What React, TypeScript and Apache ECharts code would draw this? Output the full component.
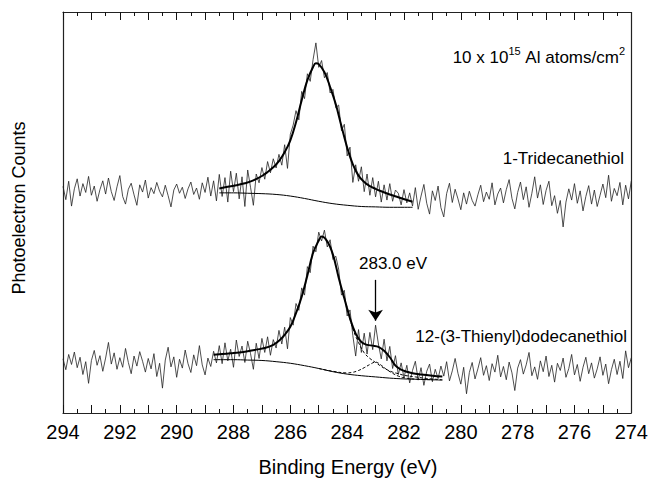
import React, { useEffect, useRef } from "react";
import * as echarts from "echarts";

const FONT = '"Liberation Sans", Arial, Helvetica, sans-serif';

// x axis (binding energy, eV), drawn reversed
const xMin = 274;
const xMax = 294;
const xTickLabels = [294, 292, 290, 288, 286, 284, 282, 280, 278, 276, 274];
const STEP = 0.1;

// ---- 1-Tridecanethiol raw spectrum (segments; each starts at given energy, step 0.1 eV downward)
const topRawA = [56.5, 53.2, 57.8, 51.6, 55.9, 58.4, 54.1, 57.2, 55.0, 59.0, 54.3, 56.6, 52.8, 55.7, 57.9, 54.6, 58.6, 55.2, 53.0, 56.4, 59.2, 54.0, 52.1, 55.8, 57.3, 54.4, 51.8, 56.9, 55.1, 58.1, 53.6, 56.2, 54.7, 57.5, 55.3, 53.9, 56.8, 54.2, 51.4, 55.6, 57.1, 54.8, 56.3, 53.5, 55.9, 57.6, 54.5, 56.1, 53.3, 57.4, 55.0, 58.8, 54.1, 57.9, 52.9];
const topRawB = [59.5, 54.0, 58.7, 52.6, 60.3, 55.2, 59.8, 53.4, 58.9, 51.5, 60.6, 56.3, 51.8, 59.6, 57.4, 61.2, 58.3, 62.7, 59.9, 63.4, 61.1];
const topRawC = [64.5, 61.8, 66.9, 61.0, 69.5, 71.8, 75.4, 73.1, 80.2, 78.4, 84.6, 82.7, 88.1, 92.3, 86.2, 87.9, 83.6, 84.9, 79.8, 80.7, 76.1];
const topRawD = [76.8, 70.4, 72.0, 64.1, 66.3, 57.5, 61.9, 57.8, 61.4, 55.2, 59.6, 54.3, 58.7, 53.9, 57.8, 52.6, 56.9, 53.1, 57.2, 52.8, 55.6];
const topRawE = [54.8, 51.9, 55.7, 52.4, 54.9, 51.6, 56.2, 50.8, 54.1, 57.0, 52.3, 49.6, 55.4, 53.0, 56.6, 51.2, 48.9, 54.7, 57.3, 52.5, 55.8, 53.4, 50.7, 54.9, 52.1, 55.3, 53.0, 51.6, 54.4, 56.8, 52.7, 55.1, 53.3, 57.4, 51.9, 54.6, 56.1, 52.4, 55.7, 58.2, 53.5, 50.9, 55.0, 57.6, 53.2, 56.4, 51.3, 54.8, 58.9, 53.6, 56.9, 52.0, 55.5, 57.8, 51.7, 54.2, 49.8, 53.0, 46.4, 52.6, 55.9, 53.1, 57.2, 52.3, 55.4, 50.4, 54.0, 56.7, 52.1, 55.6, 51.5, 54.3, 57.1, 53.7, 59.3, 52.8, 56.0, 54.2, 57.5, 51.9, 56.8, 53.4, 57.9];

const topFit = [
  [288.5, 56.0], [288.2, 56.4], [287.9, 56.8], [287.6, 57.3], [287.3, 58.0], [287.0, 59.1],
  [286.8, 60.1], [286.6, 61.3], [286.4, 62.8], [286.2, 65.0], [286.0, 68.0], [285.8, 72.5],
  [285.6, 78.0], [285.4, 83.0], [285.2, 86.3], [285.1, 87.2], [285.0, 87.0], [284.8, 85.0],
  [284.6, 81.3], [284.4, 77.0], [284.2, 71.5], [284.0, 66.2], [283.8, 62.0], [283.6, 59.2],
  [283.4, 57.6], [283.2, 56.6], [283.0, 55.9], [282.8, 55.3], [282.5, 54.5], [282.2, 53.8],
  [281.9, 53.1], [281.7, 52.7],
];
const topBackground = [
  [288.5, 54.9], [288.0, 54.9], [287.5, 54.8], [287.0, 54.7], [286.5, 54.5], [286.0, 54.1],
  [285.5, 53.5], [285.0, 52.8], [284.5, 52.2], [284.0, 51.8], [283.5, 51.5], [283.0, 51.4],
  [282.5, 51.3], [281.7, 51.3],
];

// ---- 12-(3-Thienyl)dodecanethiol raw spectrum
const botRawA = [13.5, 10.8, 14.6, 12.1, 15.2, 11.3, 13.9, 9.6, 12.8, 7.4, 13.1, 15.6, 11.9, 14.3, 10.4, 13.7, 17.6, 12.2, 15.0, 10.9, 13.8, 11.4, 16.1, 12.6, 9.8, 14.2, 11.7, 15.3, 12.9, 10.2, 13.6, 11.0, 14.8, 9.1, 12.4, 6.2, 13.2, 16.4, 11.5, 14.0, 8.9, 13.4, 11.2, 15.7, 12.3, 10.1, 14.5, 11.8, 16.8, 12.0, 9.5, 13.7, 11.6, 15.4, 12.5];
const botRawB = [16.8, 12.3, 17.5, 13.0, 15.9, 11.4, 18.2, 14.1, 16.7, 12.6, 17.9, 14.8, 10.9, 17.4, 13.6, 18.6, 15.1, 19.0, 14.4, 18.3, 16.2];
const botRawC = [20.6, 17.2, 21.4, 16.0, 23.8, 21.9, 27.3, 25.6, 31.2, 29.4, 36.5, 35.0, 41.6, 40.2, 45.1, 42.9, 45.6, 41.4, 43.2, 38.3, 39.1];
const botRawD = [35.9, 29.4, 30.6, 24.2, 25.7, 19.3, 14.2, 20.8, 15.1, 19.9, 14.7, 20.1, 15.8, 21.9, 17.2, 13.5, 18.4, 13.0, 16.6, 11.1, 14.3];
const botRawE = [9.6, 12.5, 8.8, 11.9, 7.5, 10.6, 12.9, 8.2, 11.3, 6.9, 10.4, 12.2, 7.8, 10.9, 8.6, 11.7, 9.2, 12.8, 8.0, 10.5, 13.6, 9.9, 7.2, 11.4, 4.8, 10.1, 12.6, 8.5, 11.0, 13.8, 9.4, 11.8, 8.1, 12.3, 10.2, 14.4, 9.0, 11.6, 8.3, 12.7, 10.0, 5.6, 11.2, 13.3, 9.7, 12.0, 15.1, 9.3, 11.5, 8.4, 13.0, 10.3, 14.2, 9.1, 11.9, 7.7, 12.4, 10.6, 13.7, 8.9, 11.1, 14.6, 9.5, 12.1, 7.9, 11.4, 13.9, 9.8, 12.5, 8.7, 11.0, 14.0, 9.4, 12.2, 7.3, 10.8, 13.4, 9.6, 12.9, 8.6, 15.5, 11.3, 13.8];

const botFit = [
  [288.7, 14.5], [288.4, 14.7], [288.1, 14.9], [287.8, 15.1], [287.5, 15.4], [287.2, 15.8],
  [286.9, 16.2], [286.6, 17.0], [286.4, 18.0], [286.2, 19.5], [286.0, 21.5], [285.8, 24.9],
  [285.6, 29.0], [285.4, 34.3], [285.2, 39.9], [285.0, 43.0], [284.9, 44.0], [284.7, 42.8],
  [284.5, 39.5], [284.3, 33.8], [284.1, 28.6], [283.9, 23.6], [283.7, 19.8], [283.5, 17.7],
  [283.3, 17.0], [283.1, 16.8], [282.9, 16.5], [282.7, 15.5], [282.5, 13.9], [282.3, 11.8],
  [282.1, 10.8], [281.9, 10.3], [281.7, 9.9], [281.4, 9.6], [281.0, 9.3], [280.65, 9.1],
];
const botBackground = [
  [288.7, 13.3], [288.0, 13.3], [287.5, 13.2], [287.0, 13.1], [286.5, 12.8], [286.0, 12.4],
  [285.5, 11.8], [285.0, 11.1], [284.5, 10.3], [284.0, 9.7], [283.5, 9.3], [283.0, 9.0],
  [282.5, 8.7], [282.0, 8.5], [281.5, 8.4], [280.65, 8.2],
];
const botMainComponent = [
  [284.2, 30.8], [284.0, 26.3], [283.8, 21.0], [283.6, 17.6], [283.4, 15.0], [283.2, 13.6],
  [283.0, 12.6], [282.8, 11.6], [282.6, 10.8], [282.4, 10.2], [282.2, 9.8], [282.0, 9.4],
  [281.6, 9.0], [281.2, 8.6], [280.65, 8.3],
];
const botShoulderComponent = [
  [285.0, 11.1], [284.5, 10.4], [284.0, 10.0], [283.8, 10.15], [283.6, 10.6], [283.4, 11.3],
  [283.2, 12.1], [283.0, 12.7], [282.8, 11.9], [282.6, 10.8], [282.4, 9.9], [282.2, 9.2],
  [282.0, 8.8], [281.6, 8.45], [281.0, 8.3],
];

const arrowEnergy = 283.0;
const arrowFrom = 33.2;
const arrowTo = 23.0;

function seg(start: number, vals: number[]) {
  return vals.map((v, i) => [+(start - STEP * i).toFixed(2), v]);
}

const topRaw = [
  ...seg(294.0, topRawA), ...seg(288.5, topRawB), ...seg(286.4, topRawC),
  ...seg(284.3, topRawD), ...seg(282.2, topRawE),
];
const botRaw = [
  ...seg(294.0, botRawA), ...seg(288.5, botRawB), ...seg(286.4, botRawC),
  ...seg(284.3, botRawD), ...seg(282.2, botRawE),
];

function makeXAxis(position: "top" | "bottom", showLabels: boolean) {
  return {
    type: "value",
    position,
    min: xMin,
    max: xMax,
    interval: 1,
    inverse: true,
    axisLine: { show: true, lineStyle: { color: "#222", width: 1.2 } },
    axisTick: { show: true, inside: true, length: 8, lineStyle: { color: "#111", width: 1 } },
    minorTick: { show: true, splitNumber: 2, length: 4, lineStyle: { color: "#111", width: 1 } },
    splitLine: { show: false },
    axisLabel: {
      show: showLabels, margin: 9, fontSize: 20, color: "#000", fontFamily: FONT,
      formatter: (v: number) => (xTickLabels.includes(v) ? String(v) : ""),
    },
  };
}

export default function App() {
  const ref = useRef<HTMLDivElement>(null);
  useEffect(() => {
    document.body.style.margin = "0";
    document.body.style.overflow = "hidden";
    const chart = echarts.init(ref.current!, null, { renderer: "svg" });
    const rawStyle = { color: "#222", width: 0.8 };
    const fitStyle = { color: "#000", width: 2 };
    const bgStyle = { color: "#000", width: 1 };
    const dashStyle = { color: "#000", width: 1, type: [3, 2] as any };
    chart.setOption({
      animation: false,
      backgroundColor: "#fff",
      grid: { left: 63, right: 18, top: 12, bottom: 68 },
      xAxis: [makeXAxis("bottom", true), makeXAxis("top", false)],
      yAxis: {
        type: "value", min: 0, max: 100,
        axisLine: { show: true, lineStyle: { color: "#222", width: 1.2 } },
        axisTick: { show: false }, axisLabel: { show: false }, splitLine: { show: false },
      },
      series: [
        { type: "line", data: topRaw, showSymbol: false, lineStyle: rawStyle, z: 2, silent: true,
          markLine: {
            silent: true, symbol: "none", label: { show: false },
            lineStyle: { color: "#222", width: 1.2, type: "solid" },
            data: [{ xAxis: xMin }],
          } },
        { type: "line", data: botRaw, showSymbol: false, lineStyle: rawStyle, z: 2, silent: true,
          markLine: {
            silent: true, symbol: ["none", "arrow"], symbolSize: 11,
            lineStyle: { color: "#000", width: 1.3, type: "solid" },
            label: { show: false },
            data: [[{ coord: [arrowEnergy, arrowFrom] }, { coord: [arrowEnergy, arrowTo] }]],
          } },
        { type: "line", data: topBackground, showSymbol: false, smooth: 0.4, lineStyle: bgStyle, z: 3, silent: true },
        { type: "line", data: botBackground, showSymbol: false, smooth: 0.4, lineStyle: bgStyle, z: 3, silent: true },
        { type: "line", data: botMainComponent, showSymbol: false, smooth: 0.4, lineStyle: dashStyle, z: 3, silent: true },
        { type: "line", data: botShoulderComponent, showSymbol: false, smooth: 0.4, lineStyle: dashStyle, z: 3, silent: true },
        { type: "line", data: topFit, showSymbol: false, smooth: 0.4, lineStyle: fitStyle, z: 4, silent: true },
        { type: "line", data: botFit, showSymbol: false, smooth: 0.4, lineStyle: fitStyle, z: 4, silent: true },
      ],
      graphic: [
        { type: "text", x: 348, y: 467,
          style: { text: "Binding Energy (eV)", fontSize: 20, fontFamily: FONT, fill: "#000", align: "center", verticalAlign: "middle" } },
        { type: "text", x: 19, y: 208, rotation: Math.PI / 2,
          style: { text: "Photoelectron Counts", fontSize: 18, fontFamily: FONT, fill: "#000", align: "center", verticalAlign: "middle" } },
        { type: "text", x: 625, y: 57,
          style: {
            text: "{a|10 x 10}{s|15}{a| Al atoms/cm}{s|2}",
            align: "right", verticalAlign: "middle",
            rich: {
              a: { fontSize: 17, fontFamily: FONT, fill: "#000", lineHeight: 24 },
              s: { fontSize: 11, fontFamily: FONT, fill: "#000", lineHeight: 24, verticalAlign: "top" },
            },
          } },
        { type: "text", x: 624, y: 158,
          style: { text: "1-Tridecanethiol", fontSize: 17, fontFamily: FONT, fill: "#000", align: "right", verticalAlign: "middle" } },
        { type: "text", x: 627, y: 336,
          style: { text: "12-(3-Thienyl)dodecanethiol", fontSize: 17, fontFamily: FONT, fill: "#000", align: "right", verticalAlign: "middle" } },
        { type: "text", x: 393, y: 263,
          style: { text: "283.0 eV", fontSize: 17, fontFamily: FONT, fill: "#000", align: "center", verticalAlign: "middle" } },
      ],
    });
    return () => chart.dispose();
  }, []);
  return <div ref={ref} style={{ width: 651, height: 481 }} />;
}
